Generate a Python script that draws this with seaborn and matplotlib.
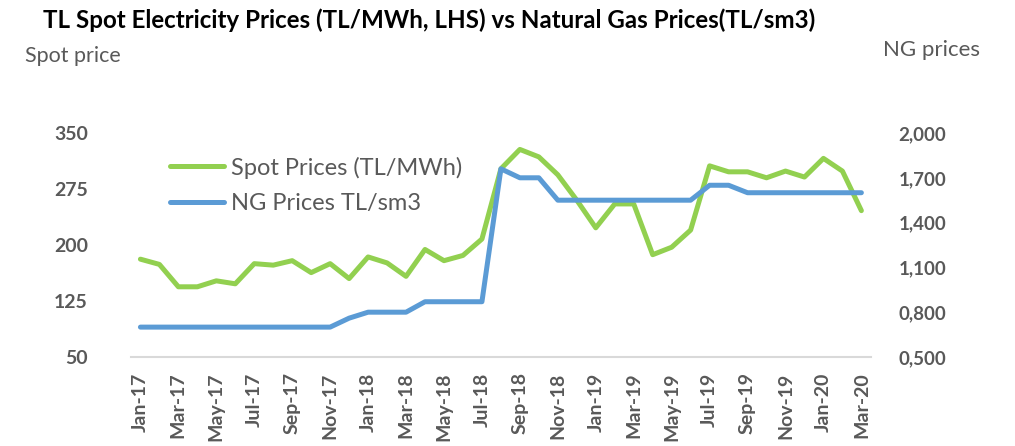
import numpy as np
import pandas as pd
import seaborn as sns
import matplotlib.pyplot as plt
from matplotlib.lines import Line2D

sns.set_style("white")
plt.rcParams['font.family'] = ['Lato', 'DejaVu Sans']

# monthly data Jan-17 .. Mar-20
months = pd.date_range('2017-01-01', '2020-03-01', freq='MS').strftime('%b-%y').tolist()
spot = [181, 174, 144, 144, 152, 148, 175, 173, 179, 163, 175, 155,
        184, 176, 158, 194, 179, 186, 208, 302, 328, 318, 294, 260,
        223, 255, 255, 187, 197, 220, 306, 298, 298, 290, 299, 291,
        316, 299, 246]
ng = [0.70, 0.70, 0.70, 0.70, 0.70, 0.70, 0.70, 0.70, 0.70, 0.70, 0.70, 0.76,
      0.80, 0.80, 0.80, 0.87, 0.87, 0.87, 0.87, 1.76, 1.70, 1.70, 1.55, 1.55,
      1.55, 1.55, 1.55, 1.55, 1.55, 1.55, 1.65, 1.65, 1.60, 1.60, 1.60, 1.60,
      1.60, 1.60, 1.60]
left_ticks = [50, 125, 200, 275, 350]
right_ticks = [0.5, 0.8, 1.1, 1.4, 1.7, 2.0]
right_labels = ['0,500', '0,800', '1,100', '1,400', '1,700', '2,000']

green = '#92D050'
blue = '#5B9BD5'
grey = '#595959'

df = pd.DataFrame({'idx': np.arange(len(months)), 'month': months, 'spot': spot, 'ng': ng})

fig = plt.figure(figsize=(10.15, 4.46), dpi=100)
ax = fig.add_axes([0.129, 0.1996, 0.729, 0.5022])
ax2 = ax.twinx()

sns.lineplot(data=df, x='idx', y='spot', ax=ax, color=green, linewidth=3.6,
             solid_capstyle='round', solid_joinstyle='round')
sns.lineplot(data=df, x='idx', y='ng', ax=ax2, color=blue, linewidth=3.6,
             solid_capstyle='round', solid_joinstyle='round')

ax.set_xlim(-0.5, 38.5)
ax.set_ylim(50, 350)
ax2.set_ylim(0.5, 2.0)
ax.set_yticks(left_ticks)
ax.set_yticklabels([str(t) for t in left_ticks], fontsize=14, fontweight='bold', color=grey)
ax2.set_yticks(right_ticks)
ax2.set_yticklabels(right_labels, fontsize=13.5, fontweight='bold', color=grey)
ax.set_xticks(df['idx'][::2])
ax.set_xticklabels(df['month'][::2], rotation=90, fontsize=14, fontweight='bold', color=grey)
ax.tick_params(axis='y', length=0, pad=31)
ax.tick_params(axis='x', length=0, pad=11)
ax2.tick_params(axis='y', length=0, pad=20)
ax.set_xlabel('')
ax.set_ylabel('')
ax2.set_ylabel('')

for a in (ax, ax2):
    for s in ['top', 'left', 'right', 'bottom']:
        a.spines[s].set_visible(False)
ax.spines['bottom'].set_visible(True)
ax.spines['bottom'].set_color('#D9D9D9')
ax.spines['bottom'].set_linewidth(1.5)

handles = [Line2D([0], [0], color=green, lw=3.6, solid_capstyle='round'),
           Line2D([0], [0], color=blue, lw=3.6, solid_capstyle='round')]
leg = ax.legend(handles, ['Spot Prices (TL/MWh)', 'NG Prices TL/sm3'],
                loc='upper left', bbox_to_anchor=(0.024, 0.99), frameon=False,
                fontsize=17, handlelength=2.3, handletextpad=0.3, labelspacing=0.62)
for t in leg.get_texts():
    t.set_color(grey)

fig.text(0.042, 0.955, 'TL Spot Electricity Prices (TL/MWh, LHS) vs Natural Gas Prices(TL/sm3)',
         fontsize=17.4, fontweight='bold', color='black', va='center')
fig.text(0.025, 0.875, 'Spot price', fontsize=15.5, color=grey, va='center')
fig.text(0.870, 0.888, 'NG prices', fontsize=16, color=grey, va='center')

fig.savefig('out.png', dpi=100)
